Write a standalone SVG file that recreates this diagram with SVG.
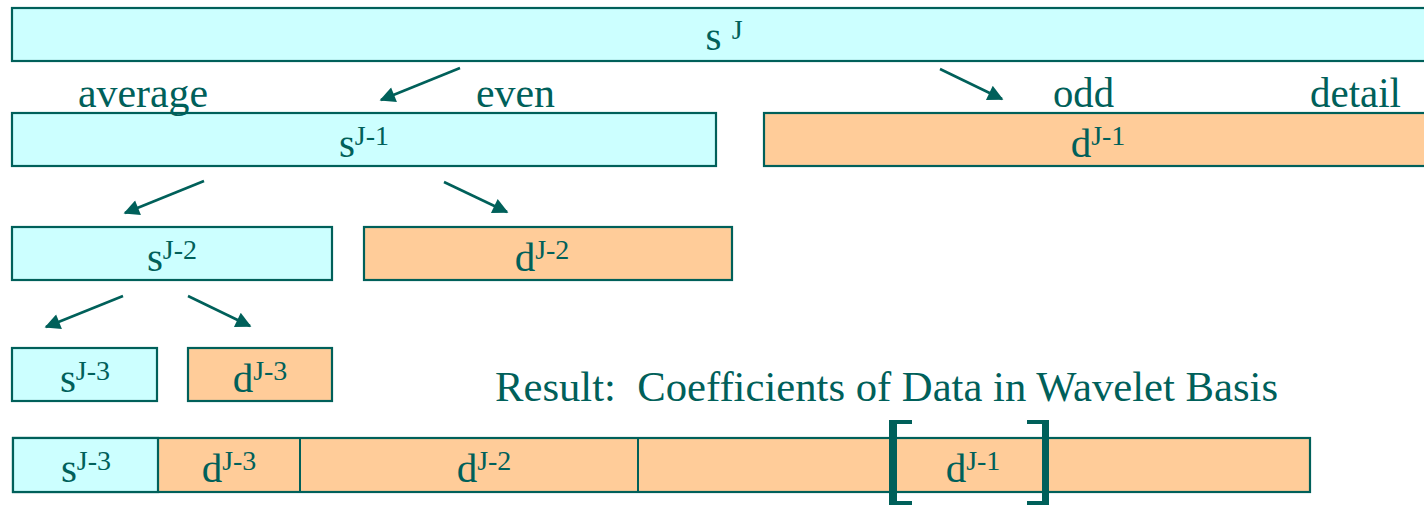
<svg xmlns="http://www.w3.org/2000/svg" width="1424" height="506" viewBox="0 0 1424 506">
  <style>
    .s { fill: #ccffff; stroke: #00605a; stroke-width: 2.2; }
    .d { fill: #ffcc99; stroke: #00605a; stroke-width: 2.2; }
    .lbl { font-family: "Liberation Serif", "Times New Roman", serif; font-size: 41px; fill: #00605a; text-anchor: middle; }
    .sup { font-size: 28px; }
    .word { font-family: "Liberation Serif", "Times New Roman", serif; font-size: 42px; fill: #00605a; }
    .arrow { stroke: #00605a; stroke-width: 2.6; fill: none; marker-end: url(#head); }
    .div { stroke: #00605a; stroke-width: 2; }
    .bracket { fill: #00605a; }
  </style>
  <defs>
    <marker id="head" viewBox="0 0 10 10" refX="9" refY="5" markerWidth="7.5" markerHeight="6" markerUnits="strokeWidth" orient="auto">
      <path d="M0,0 L10,5 L0,10 z" fill="#00605a"/>
    </marker>
  </defs>

  <rect width="1424" height="506" fill="#ffffff"/>

  <!-- level J -->
  <g id="sJ">
    <rect class="s" x="12" y="8" width="1424" height="53"/>
    <text class="lbl" x="724" y="50">s <tspan class="sup" dy="-11">J</tspan></text>
  </g>

  <!-- level J-1 -->
  <g id="sJ-1">
    <rect class="s" x="12" y="113" width="704" height="53"/>
    <text class="lbl" x="364" y="157">s<tspan class="sup" dy="-12">J-1</tspan></text>
  </g>
  <g id="dJ-1">
    <rect class="d" x="764" y="113" width="670" height="53"/>
    <text class="lbl" x="1098" y="157">d<tspan class="sup" dy="-12">J-1</tspan></text>
  </g>

  <!-- level J-2 -->
  <g id="sJ-2">
    <rect class="s" x="12" y="227" width="320" height="53"/>
    <text class="lbl" x="172" y="271">s<tspan class="sup" dy="-12">J-2</tspan></text>
  </g>
  <g id="dJ-2">
    <rect class="d" x="364" y="227" width="368" height="53"/>
    <text class="lbl" x="542" y="271">d<tspan class="sup" dy="-12">J-2</tspan></text>
  </g>

  <!-- level J-3 -->
  <g id="sJ-3">
    <rect class="s" x="12" y="348" width="145" height="53"/>
    <text class="lbl" x="85" y="392">s<tspan class="sup" dy="-12">J-3</tspan></text>
  </g>
  <g id="dJ-3">
    <rect class="d" x="188" y="348" width="144" height="53"/>
    <text class="lbl" x="260" y="392">d<tspan class="sup" dy="-12">J-3</tspan></text>
  </g>

  <!-- branch labels -->
  <g id="labels">
    <text class="word" x="78" y="107" textLength="130" lengthAdjust="spacingAndGlyphs">average</text>
    <text class="word" x="476" y="107" textLength="79" lengthAdjust="spacingAndGlyphs">even</text>
    <text class="word" x="1053" y="107" textLength="61" lengthAdjust="spacingAndGlyphs">odd</text>
    <text class="word" x="1310" y="107" textLength="91" lengthAdjust="spacingAndGlyphs">detail</text>
    <text class="word" x="495" y="401" textLength="783" lengthAdjust="spacingAndGlyphs">Result:&#160; Coefficients of Data in Wavelet Basis</text>
  </g>

  <!-- split connectors -->
  <g id="connectors">
    <line class="arrow" x1="460" y1="68" x2="381" y2="100"/>
    <line class="arrow" x1="940" y1="69" x2="1002" y2="99"/>
    <line class="arrow" x1="204" y1="181" x2="125" y2="213"/>
    <line class="arrow" x1="444" y1="182" x2="507" y2="212"/>
    <line class="arrow" x1="123" y1="296" x2="46" y2="327"/>
    <line class="arrow" x1="188" y1="296" x2="250" y2="326"/>
  </g>

  <!-- final coefficient layout -->
  <g id="result">
    <rect class="d" x="13" y="438" width="1297" height="54"/>
    <rect class="s" x="13" y="438" width="145" height="54"/>
    <line class="div" x1="300" y1="438" x2="300" y2="492"/>
    <line class="div" x1="638" y1="438" x2="638" y2="492"/>
    <text class="lbl" x="86" y="482">s<tspan class="sup" dy="-12">J-3</tspan></text>
    <text class="lbl" x="229" y="482">d<tspan class="sup" dy="-12">J-3</tspan></text>
    <text class="lbl" x="484" y="482">d<tspan class="sup" dy="-12">J-2</tspan></text>
    <text class="lbl" x="973" y="482">d<tspan class="sup" dy="-12">J-1</tspan></text>
  </g>

  <!-- brackets around the finest detail band -->
  <g id="brackets">
    <path class="bracket" d="M889,420 H912 V424 H897 V501 H912 V505 H889 Z"/>
    <path class="bracket" d="M1049,420 H1027 V424 H1042 V501 H1027 V505 H1049 Z"/>
  </g>
</svg>
